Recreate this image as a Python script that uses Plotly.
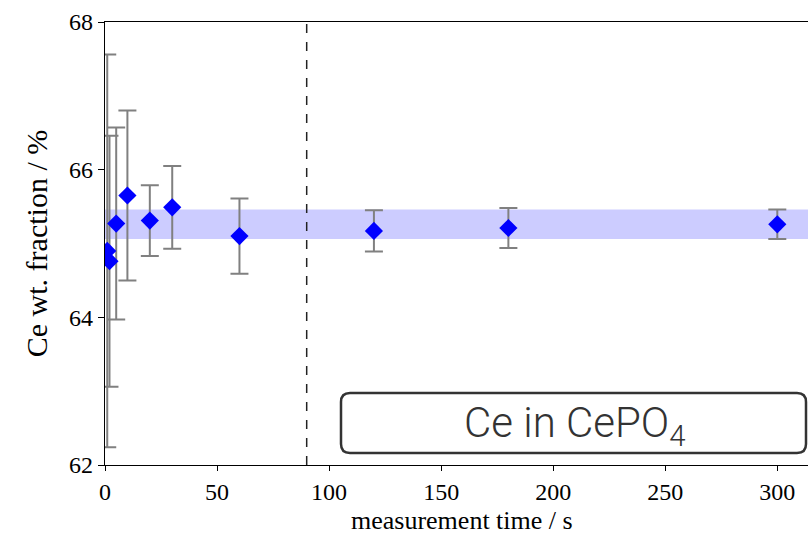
import plotly.graph_objects as go

# data
time_s = [1, 2, 5, 10, 20, 30, 60, 120, 180, 300]
ce_frac = [64.90, 64.76, 65.27, 65.65, 65.31, 65.49, 65.10, 65.17, 65.21, 65.26]
ce_err = [2.66, 1.70, 1.30, 1.15, 0.48, 0.56, 0.51, 0.28, 0.27, 0.20]
band_low = 65.06
band_high = 65.46
band_x = [-10, 400]
cut_time = 90
x_ticks = [0, 50, 100, 150, 200, 250, 300]
y_ticks = [62, 64, 66, 68]
x_range = [0, 313.7]
y_range = [62, 68]

serif = "Liberation Serif"

fig = go.Figure()

# reference band
fig.add_trace(go.Scatter(x=band_x, y=[band_low, band_low], mode="lines",
                         line=dict(width=0, color="rgba(0,0,0,0)"),
                         showlegend=False, hoverinfo="skip"))
fig.add_trace(go.Scatter(x=band_x, y=[band_high, band_high], mode="lines",
                         line=dict(width=0, color="rgba(0,0,0,0)"),
                         fill="tonexty", fillcolor="rgba(0,0,255,0.2)",
                         showlegend=False, hoverinfo="skip"))

# measurements
fig.add_trace(go.Scatter(
    x=time_s, y=ce_frac, mode="markers",
    marker=dict(symbol="diamond", size=14, color="#0000ff", line=dict(width=0)),
    error_y=dict(type="data", array=ce_err, visible=True, color="#808080",
                 thickness=2, width=9),
    showlegend=False))

# dashed vertical line
fig.add_shape(type="line", x0=cut_time, x1=cut_time, xref="x", y0=0, y1=1,
              yref="paper", line=dict(color="#222222", width=1.5, dash="dash"))

# rounded label box (paper coordinates)
W, H = 808, 536
ml, mr, mt, mb = 105, 0, 22, 71
pw, ph = W - ml - mr, H - mt - mb
def px(xp):
    return (xp - ml) / pw
def py(yp):
    return 1 - (yp - mt) / ph
x0, x1, y0, y1, r = 341, 806, 393, 453, 9
path = (f"M {px(x0 + r)},{py(y0)} L {px(x1 - r)},{py(y0)} "
        f"Q {px(x1)},{py(y0)} {px(x1)},{py(y0 + r)} "
        f"L {px(x1)},{py(y1 - r)} Q {px(x1)},{py(y1)} {px(x1 - r)},{py(y1)} "
        f"L {px(x0 + r)},{py(y1)} Q {px(x0)},{py(y1)} {px(x0)},{py(y1 - r)} "
        f"L {px(x0)},{py(y0 + r)} Q {px(x0)},{py(y0)} {px(x0 + r)},{py(y0)} Z")
fig.add_shape(type="path", path=path, xref="paper", yref="paper",
              line=dict(color="#333333", width=2.5), fillcolor="white")
fig.add_annotation(x=px(575), y=py(425), xref="paper", yref="paper",
                   text="Ce in CePO<sub>4</sub>", showarrow=False,
                   font=dict(family="Roboto", size=42, color="#333333", weight=300),
                   xanchor="center", yanchor="middle")

# x axis title as annotation (axes centre is beyond the cropped canvas)
fig.add_annotation(x=px(462), y=py(520), xref="paper", yref="paper",
                   text="measurement time / s", showarrow=False,
                   font=dict(family=serif, size=26, color="black"),
                   xanchor="center", yanchor="middle")

fig.update_xaxes(range=x_range, tickvals=x_ticks, ticks="outside", ticklen=5,
                 tickwidth=1.2, tickcolor="black", showline=True, linecolor="black",
                 linewidth=1.3, mirror=True, showgrid=False, zeroline=False,
                 tickfont=dict(family=serif, size=24, color="black"))
fig.update_yaxes(range=y_range, tickvals=y_ticks, ticks="outside", ticklen=6,
                 tickwidth=1.2, tickcolor="black", showline=True, linecolor="black",
                 linewidth=1.3, mirror=False, showgrid=False, zeroline=False,
                 tickfont=dict(family=serif, size=24, color="black"),
                 title=dict(text="Ce wt. fraction / %", standoff=12,
                            font=dict(family=serif, size=30, color="black")))

fig.update_layout(width=W, height=H, margin=dict(l=ml, r=mr, t=mt, b=mb),
                  plot_bgcolor="white", paper_bgcolor="white")

fig.write_html("out.html")
